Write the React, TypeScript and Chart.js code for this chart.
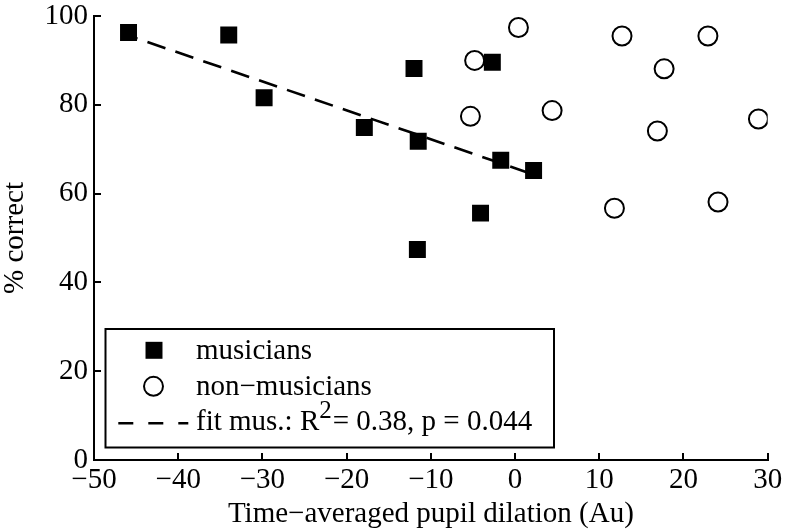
import React, { useEffect, useRef } from 'react';
import { Chart, registerables } from 'chart.js';

Chart.register(...registerables);

// ---- data ----
const musiciansX = [-45.9, -34.0, -29.8, -17.9, -12.0, -2.7, -11.5, -1.7, 2.2, -4.1, -11.6];
const musiciansY = [96.3, 95.7, 81.6, 74.9, 88.2, 89.6, 71.8, 67.5, 65.2, 55.6, 47.4];
const nonMusiciansX = [0.4, -4.8, 12.7, 22.9, 17.7, -5.3, 4.4, 16.9, 28.9, 11.8, 24.1];
const nonMusiciansY = [97.4, 90.0, 95.5, 95.5, 88.1, 77.4, 78.7, 74.1, 76.8, 56.7, 58.1];
const fitX = [-45.9, 2.2];
const fitY = [95.6, 64.3];
const xTicks = [-50, -40, -30, -20, -10, 0, 10, 20, 30];
const yTicks = [0, 20, 40, 60, 80, 100];
const seriesLabels = ['musicians', 'non\u2212musicians', 'fit mus.: R^{2}= 0.38, p = 0.044'];
const xTitle = 'Time\u2212averaged pupil dilation (Au)';
const yTitle = '% correct';

const FONT = 'Liberation Serif';
const FS = 29;

const toPoints = (xs: number[], ys: number[]) => xs.map((x, i) => ({ x, y: ys[i] }));
const fmt = (v: number) => String(v).replace('-', '\u2212');

// inward tick marks drawn through the scales
const inwardTicks = {
  id: 'inwardTicks',
  afterDraw(chart: any) {
    const ctx: CanvasRenderingContext2D = chart.ctx;
    const xs = chart.scales.x;
    const ys = chart.scales.y;
    const ca = chart.chartArea;
    const len = 7;
    ctx.save();
    ctx.strokeStyle = '#000';
    ctx.lineWidth = 2;
    ctx.setLineDash([]);
    ctx.beginPath();
    xTicks.forEach((v) => {
      const px = Math.round(xs.getPixelForValue(v));
      ctx.moveTo(px, ca.bottom);
      ctx.lineTo(px, ca.bottom - len);
    });
    yTicks.forEach((v) => {
      const py = Math.round(ys.getPixelForValue(v));
      ctx.moveTo(ca.left, py);
      ctx.lineTo(ca.left + len, py);
    });
    ctx.stroke();
    ctx.restore();
  },
};

const boxLegend = {
  id: 'boxLegend',
  afterDatasetsDraw(chart: any) {
    const ctx: CanvasRenderingContext2D = chart.ctx;
    const ca = chart.chartArea;
    const left = ca.left + 11.5;
    const right = left + 448.5;
    const bottom = ca.bottom - 12.5;
    const top = bottom - 118.5;
    ctx.save();
    ctx.fillStyle = '#fff';
    ctx.fillRect(left, top, right - left, bottom - top);
    ctx.strokeStyle = '#000';
    ctx.lineWidth = 2;
    ctx.setLineDash([]);
    ctx.strokeRect(left, top, right - left, bottom - top);

    const ds = chart.data.datasets;
    const baselines = [top + 30, top + 66, top + 101];
    const markerX = left + 48.5;
    const textX = left + 90.5;
    ctx.textBaseline = 'alphabetic';
    ctx.textAlign = 'left';
    ctx.fillStyle = '#000';

    ds.forEach((d: any, i: number) => {
      const by = baselines[i];
      const my = by - 8.7;
      if (d.showLine) {
        ctx.save();
        ctx.strokeStyle = d.borderColor;
        ctx.lineWidth = d.borderWidth;
        ctx.setLineDash([15, 15]);
        ctx.beginPath();
        ctx.moveTo(left + 12.8, my + 2);
        ctx.lineTo(left + 82.8, my + 2);
        ctx.stroke();
        ctx.restore();
      } else if (d.pointStyle === 'rect') {
        const s = d.pointRadius * Math.SQRT1_2;
        ctx.fillStyle = d.backgroundColor;
        ctx.fillRect(markerX - s, my - s, 2 * s, 2 * s);
      } else {
        ctx.beginPath();
        ctx.arc(markerX - 0.5, my, d.pointRadius, 0, Math.PI * 2);
        ctx.fillStyle = d.backgroundColor;
        ctx.fill();
        ctx.lineWidth = d.borderWidth;
        ctx.strokeStyle = d.borderColor;
        ctx.stroke();
      }
      ctx.fillStyle = '#000';
      const label: string = d.label;
      const m = label.match(/^(.*)\^\{(.*?)\}(.*)$/);
      if (m) {
        ctx.font = `${FS}px "${FONT}"`;
        ctx.fillText(m[1], textX, by);
        let x = textX + ctx.measureText(m[1]).width;
        ctx.font = `25px "${FONT}"`;
        ctx.fillText(m[2], x, by - 12);
        x += ctx.measureText(m[2]).width + 1;
        ctx.font = `${FS}px "${FONT}"`;
        ctx.fillText(m[3], x, by);
      } else {
        ctx.font = `${FS}px "${FONT}"`;
        ctx.fillText(label, textX, by);
      }
    });
    ctx.restore();
  },
};

export default function App() {
  const ref = useRef<HTMLCanvasElement>(null);

  useEffect(() => {
    if (!ref.current) return;
    Chart.defaults.font.family = FONT;
    const tickFont = { family: FONT, size: FS };
    const chart = new Chart(ref.current, {
      type: 'scatter',
      data: {
        datasets: [
          {
            label: seriesLabels[0],
            data: toPoints(musiciansX, musiciansY),
            pointStyle: 'rect',
            pointRadius: 12,
            backgroundColor: '#000',
            borderColor: '#000',
            borderWidth: 0,
          },
          {
            label: seriesLabels[1],
            data: toPoints(nonMusiciansX, nonMusiciansY),
            pointStyle: 'circle',
            pointRadius: 9.5,
            backgroundColor: '#fff',
            borderColor: '#000',
            borderWidth: 2,
          },
          {
            label: seriesLabels[2],
            data: toPoints(fitX, fitY),
            showLine: true,
            pointRadius: 0,
            borderColor: '#000',
            borderWidth: 2.6,
            borderDash: [19, 10.5],
            borderDashOffset: 9.5,
            fill: false,
          } as any,
        ],
      },
      options: {
        animation: false,
        responsive: false,
        devicePixelRatio: 1,
        layout: { padding: { left: 0, top: 16, right: 18.3, bottom: 0 } },
        plugins: {
          legend: { display: false },
          tooltip: { enabled: false },
        },
        scales: {
          x: {
            type: 'linear',
            position: 'bottom',
            min: -50,
            max: 30,
            afterBuildTicks: (s: any) => {
              s.ticks = xTicks.map((v) => ({ value: v }));
            },
            afterFit: (s: any) => {
              s.height = 71;
              s.paddingLeft = 0;
              s.paddingRight = 0;
            },
            ticks: {
              font: tickFont,
              color: '#000',
              padding: 2.6,
              maxRotation: 0,
              autoSkip: false,
              callback: (v: any) => fmt(Number(v)),
            },
            grid: { drawOnChartArea: false, drawTicks: false, color: '#000', lineWidth: 2 },
            border: { display: true, color: '#000', width: 2 },
            title: {
              display: true,
              text: xTitle,
              font: tickFont,
              color: '#000',
              padding: { top: 0, bottom: -1 },
            },
          },
          y: {
            type: 'linear',
            position: 'left',
            min: 0,
            max: 100,
            afterBuildTicks: (s: any) => {
              s.ticks = yTicks.map((v) => ({ value: v }));
            },
            afterFit: (s: any) => {
              s.width = 94;
              s.paddingTop = 0;
              s.paddingBottom = 0;
            },
            ticks: {
              font: tickFont,
              color: '#000',
              padding: 6,
              autoSkip: false,
              callback: (v: any) => fmt(Number(v)),
            },
            grid: { drawOnChartArea: false, drawTicks: false, color: '#000', lineWidth: 2 },
            border: { display: true, color: '#000', width: 2 },
            title: {
              display: true,
              text: yTitle,
              font: tickFont,
              color: '#000',
              padding: { top: -2, bottom: 0 },
            },
          },
        },
      },
      plugins: [boxLegend, inwardTicks],
    } as any);
    return () => chart.destroy();
  }, []);

  return (
    <div style={{ position: 'fixed', left: 0, top: 0, width: 786, height: 531, background: '#fff' }}>
      <canvas ref={ref} width={786} height={531} style={{ display: 'block' }} />
    </div>
  );
}
